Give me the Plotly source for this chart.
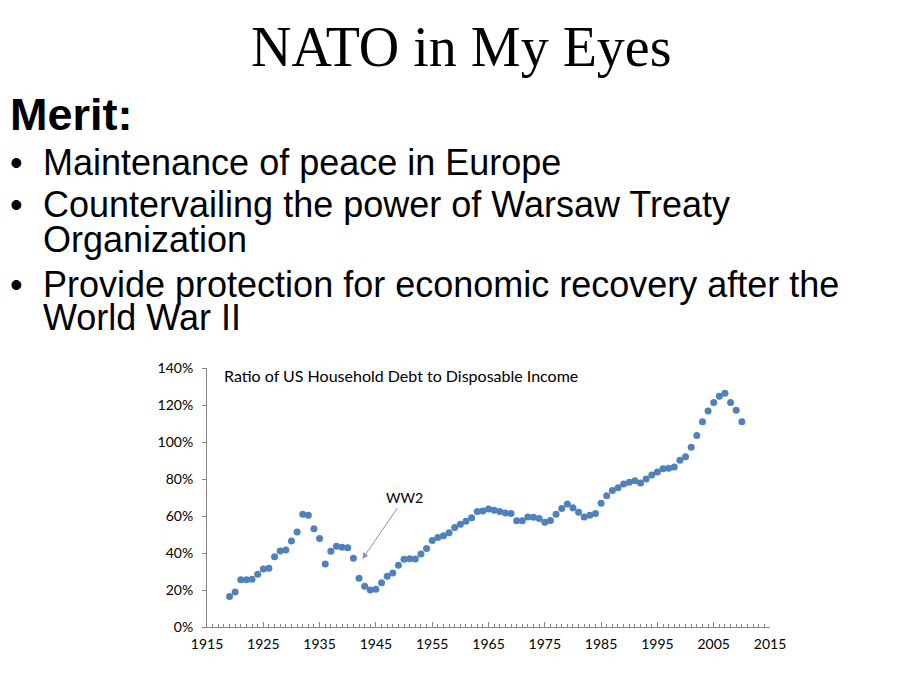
import plotly.graph_objects as go

# ---- data ----
years = list(range(1919, 2011))
debt_ratio = [
    16.5, 18.9, 25.5, 25.5, 25.8, 28.5, 31.3, 31.8, 38.0, 41.1,   # 1919-1928
    41.6, 46.5, 51.3, 60.9, 60.4, 53.1, 47.8, 34.0, 40.9, 43.6,   # 1929-1938
    43.1, 42.9, 37.1, 26.4, 22.0, 20.0, 20.4, 23.9, 27.4, 29.2,   # 1939-1948
    33.4, 36.6, 36.9, 36.7, 39.5, 42.5, 46.7, 48.4, 49.3, 50.9,   # 1949-1958
    53.8, 55.6, 57.1, 59.1, 62.4, 62.7, 63.8, 63.1, 62.4, 61.6,   # 1959-1968
    61.3, 57.5, 57.5, 59.4, 59.3, 58.6, 56.6, 57.6, 60.9, 64.0,   # 1969-1978
    66.5, 64.4, 62.0, 59.5, 60.4, 61.3, 66.9, 70.9, 73.8, 75.3,   # 1979-1988
    77.3, 78.2, 79.1, 77.8, 80.0, 82.2, 83.8, 85.5, 85.8, 86.5,   # 1989-1998
    90.2, 92.0, 97.1, 103.5, 110.9, 116.7, 121.4, 124.7, 126.4, 121.4,  # 1999-2008
    117.1, 110.9,                                                 # 2009-2010
]
y_ticks = [0, 20, 40, 60, 80, 100, 120, 140]
x_ticks = [1915, 1925, 1935, 1945, 1955, 1965, 1975, 1985, 1995, 2005, 2015]

slide_title = "NATO in My Eyes"
heading = "Merit:"
bullet_lines = [
    ("•", "Maintenance of peace in Europe"),
    ("•", "Countervailing the power of Warsaw Treaty"),
    ("", "Organization"),
    ("•", "Provide protection for economic recovery after the"),
    ("", "World War II"),
]
chart_title = "Ratio of US Household Debt to Disposable Income"
ww2_label = "WW2"
ww2_point = (1942.6, 36.8)

# ---- layout geometry (pixels, in the 920x690 window) ----
O = 8                      # default page margin of the html body
W, H = 920 - O, 690 - O
L, R, T, B = 207 - O, 770 - O, 368 - O, 627 - O


def px(x):
    return (x - O - L) / (R - L)


def py(y):
    return (B - (y - O)) / (B - T)


fig = go.Figure()
fig.add_trace(go.Scatter(
    x=years, y=debt_ratio, mode="markers",
    marker=dict(color="#4F81BD", size=7, line=dict(width=0)),
    hoverinfo="x+y", showlegend=False,
))

ann = []
# slide title
ann.append(dict(text=slide_title, x=px(461), y=py(66.7 + 0.216 * 56 + 1), xref="paper", yref="paper",
                xanchor="center", yanchor="bottom", showarrow=False,
                font=dict(family="Liberation Serif", size=56, color="#000000")))
# heading
ann.append(dict(text="<b>" + heading + "</b>", x=px(8), y=py(131.7 + 0.212 * 45 + 1),
                xref="paper", yref="paper",
                xanchor="left", yanchor="bottom", showarrow=False,
                font=dict(family="Liberation Sans", size=45, color="#000000")))
baselines = [176.5, 218.5, 253, 298, 331]
for (bul, txt), bl in zip(bullet_lines, baselines):
    yb = bl + 0.212 * 36 + 1
    if bul:
        ann.append(dict(text=bul, x=px(8), y=py(yb), xref="paper", yref="paper",
                        xanchor="left", yanchor="bottom", showarrow=False,
                        font=dict(family="Liberation Sans", size=36, color="#000000")))
    ann.append(dict(text=txt, x=px(41), y=py(yb), xref="paper", yref="paper",
                    xanchor="left", yanchor="bottom", showarrow=False,
                    font=dict(family="Liberation Sans", size=36, color="#000000")))
# chart title
ann.append(dict(text=chart_title, x=px(222), y=py(375), xref="paper", yref="paper",
                xanchor="left", yanchor="middle", showarrow=False,
                font=dict(family="Lato", size=16, color="#000000")))
# WW2 annotation with arrow
ann.append(dict(text=ww2_label, x=ww2_point[0], y=ww2_point[1], xref="x", yref="y",
                ax=42, ay=-61, showarrow=True, arrowhead=2, arrowsize=1.2,
                arrowwidth=1, arrowcolor="#8496B0",
                font=dict(family="Lato", size=14, color="#000000")))

fig.update_layout(
    width=W, height=H,
    margin=dict(l=L, r=W - R, t=T, b=H - B, pad=0),
    paper_bgcolor="white", plot_bgcolor="white",
    annotations=ann,
    xaxis=dict(
        range=[1915, 2015], tickvals=x_ticks, ticktext=[str(v) for v in x_ticks],
        showgrid=False, zeroline=False, showline=True, linecolor="#868686", linewidth=1,
        ticks="inside", ticklen=5, tickcolor="#868686",
        minor=dict(dtick=1, tick0=1915, ticks="inside", ticklen=3, tickcolor="#868686", showgrid=False),
        tickfont=dict(family="Lato", size=14, color="#000000"),
        ticklabelstandoff=4,
    ),
    yaxis=dict(
        range=[0, 140], tickvals=y_ticks, ticktext=[f"{v}%" for v in y_ticks],
        showgrid=False, zeroline=False, showline=True, linecolor="#868686", linewidth=1,
        ticks="outside", ticklen=4, tickcolor="#868686",
        tickfont=dict(family="Lato", size=14, color="#000000"),
        ticklabelstandoff=6,
    ),
)

fig.write_html("out.html")
